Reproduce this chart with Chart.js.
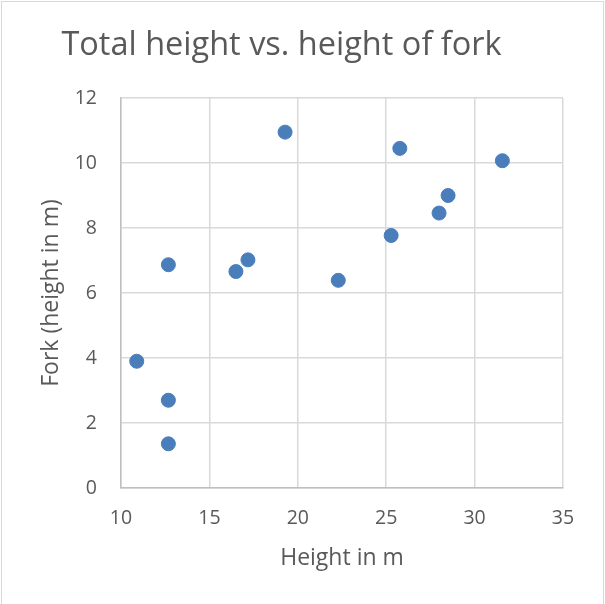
<!DOCTYPE html>
<html>
<head>
<meta charset="utf-8">
<script src="https://cdn.jsdelivr.net/npm/chart.js@4.4.0/dist/chart.umd.min.js"></script>
<style>
  html, body { margin: 0; padding: 0; background: #ffffff; }
  #wrap { position: relative; width: 605px; height: 604px; }
  canvas { display: block; }
</style>
</head>
<body>
<div id="wrap"><canvas id="c" width="605" height="604"></canvas></div>
<script>
// ---- Data ----
const totalHeight = [12.68, 16.50, 17.18, 10.89, 12.68, 12.68, 19.28, 25.77, 31.57, 28.50, 27.99, 25.28, 22.29];
const forkHeight  = [6.87,  6.66,  7.02,  3.90,  2.70,  1.36,  10.95, 10.45, 10.07, 9.00,  8.46,  7.77,  6.39];
const titleText = 'Total height vs. height of fork';
const xTitle = 'Height in m';
const yTitle = 'Fork (height in m)';
const xTicks = [10, 15, 20, 25, 30, 35];
const yTicks = [0, 2, 4, 6, 8, 10, 12];

const points = totalHeight.map((x, i) => ({ x: x, y: forkHeight[i] }));

const FONT = '"Open Sans", sans-serif';
const TEXT = '#595959';
const GRID = '#d9d9d9';

const frame = {
  id: 'frame',
  beforeDraw(chart) {
    const ctx = chart.ctx;
    ctx.save();
    ctx.fillStyle = '#ffffff';
    ctx.fillRect(0, 0, chart.width, chart.height);
    ctx.strokeStyle = GRID;
    ctx.lineWidth = 1;
    ctx.strokeRect(1.5, 1.5, chart.width - 3, chart.height);
    ctx.restore();
  }
};

new Chart(document.getElementById('c'), {
  type: 'scatter',
  data: {
    datasets: [{
      label: 'Fork',
      data: points,
      backgroundColor: '#4a7ebb',
      borderColor: '#4a7ebb',
      borderWidth: 1,
      pointRadius: 7,
      pointHoverRadius: 7
    }]
  },
  options: {
    responsive: false,
    animation: false,
    devicePixelRatio: 1,
    layout: { padding: { left: 0, right: 42, top: 0, bottom: 0 } },
    plugins: {
      legend: { display: false },
      tooltip: { enabled: false },
      title: {
        display: true,
        text: titleText,
        color: TEXT,
        font: { family: FONT, size: 32.5, weight: 'normal' },
        padding: { top: 26.5, bottom: 32.5 }
      }
    },
    scales: {
      x: {
        type: 'linear',
        min: xTicks[0],
        max: xTicks[xTicks.length - 1],
        afterBuildTicks: (s) => { s.ticks = xTicks.map(v => ({ value: v })); },
        afterFit: (s) => { s.height = 116; },
        ticks: { color: TEXT, font: { family: FONT, size: 19.5 }, padding: 19 },
        grid: { color: GRID, drawTicks: false, lineWidth: 1.5 },
        border: { color: '#bfbfbf', width: 1.5 },
        title: {
          display: true, text: xTitle, color: TEXT,
          font: { family: FONT, size: 23 },
          padding: { top: 0, bottom: 32 }
        }
      },
      y: {
        type: 'linear',
        min: yTicks[0],
        max: yTicks[yTicks.length - 1],
        afterBuildTicks: (s) => { s.ticks = yTicks.map(v => ({ value: v })); },
        afterFit: (s) => { s.width = 121; },
        ticks: { color: TEXT, font: { family: FONT, size: 19.5 }, padding: 24 },
        grid: { color: GRID, drawTicks: false, lineWidth: 1.5 },
        border: { color: '#bfbfbf', width: 1.5 },
        title: {
          display: true, text: yTitle, color: TEXT,
          font: { family: FONT, size: 23 },
          padding: { top: 38, bottom: 0 }
        }
      }
    }
  },
  plugins: [frame]
});
</script>
</body>
</html>
